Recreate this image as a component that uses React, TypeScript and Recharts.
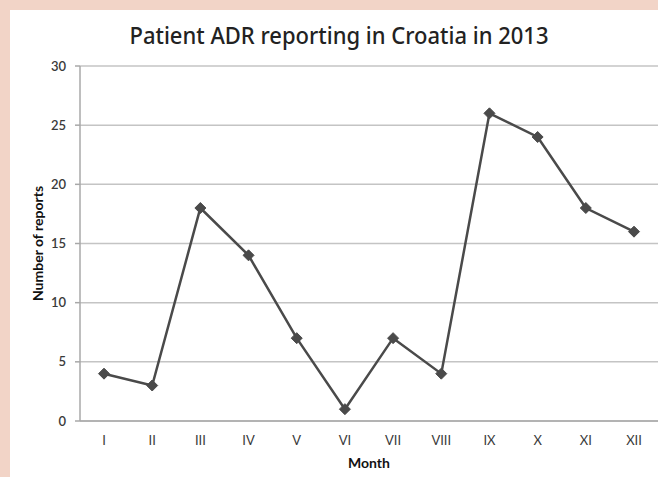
import React from 'react';
import { LineChart, Line, XAxis, YAxis, CartesianGrid } from 'recharts';

const months = ['I', 'II', 'III', 'IV', 'V', 'VI', 'VII', 'VIII', 'IX', 'X', 'XI', 'XII'];
const reports = [4, 3, 18, 14, 7, 1, 7, 4, 26, 24, 18, 16];
const yTicks = [0, 5, 10, 15, 20, 25, 30];
const title = 'Patient ADR reporting in Croatia in 2013';

const data = months.map((m, i) => ({ month: m, reports: reports[i] }));

const Diamond = (props: any) => {
  const { cx, cy } = props;
  if (cx == null || cy == null) return null;
  const r = 5.5;
  return (
    <polygon
      points={`${cx},${cy - r} ${cx + r},${cy} ${cx},${cy + r} ${cx - r},${cy}`}
      fill="#4a4a4a"
      stroke="#4a4a4a"
      strokeWidth={1}
    />
  );
};

const font = 'Lato, "Open Sans", sans-serif';

export default function App() {
  return (
    <div style={{ position: 'absolute', left: 0, top: 0, width: 658, height: 477, background: '#f2d4c7', overflow: 'hidden' }}>
      <div style={{ position: 'absolute', left: 10, top: 10, width: 648, height: 467, background: '#ffffff' }}>
        <svg width={648} height={60} style={{ position: 'absolute', left: 0, top: 0 }}>
          <text
            x={329}
            y={34}
            textAnchor="middle"
            textLength={419}
            lengthAdjust="spacingAndGlyphs"
            fontFamily={'"Noto Sans", sans-serif'}
            fontSize={23}
            fontWeight={500}
            fill="#222222"
          >
            {title}
          </text>
        </svg>
        <div style={{ position: 'absolute', left: 0, top: 0 }}>
          <LineChart width={648} height={467} data={data} margin={{ top: 56, right: 0, bottom: 0, left: 0 }}>
            <CartesianGrid vertical={false} stroke="#c4c4c4" strokeWidth={1.5} />
            <XAxis
              dataKey="month"
              ticks={months}
              interval={0}
              height={56}
              padding={{ left: 24, right: 24 }}
              axisLine={{ stroke: '#a8a8a8', strokeWidth: 1.5 }}
              tickLine={false}
              tickSize={0}
              tickMargin={15}
              tick={{ fill: '#3a3a3a', fontSize: 13, fontFamily: font }}
              label={{ value: 'Month', position: 'insideBottom', offset: 9, fill: '#111', fontSize: 14, fontWeight: 700, fontFamily: font }}
            />
            <YAxis
              width={70}
              domain={[0, 30]}
              ticks={yTicks}
              interval={0}
              axisLine={{ stroke: '#a8a8a8', strokeWidth: 1.5 }}
              tickLine={{ stroke: '#a8a8a8', strokeWidth: 1.5 }}
              tickSize={5}
              tickMargin={9}
              tick={{ fill: '#3a3a3a', fontSize: 13, fontFamily: font, fontWeight: 600 }}
              label={{ value: 'Number of reports', angle: -90, position: 'insideLeft', offset: 28, fill: '#111', fontSize: 14, fontWeight: 700, fontFamily: font, style: { textAnchor: 'middle' } }}
            />
            <Line
              type="linear"
              dataKey="reports"
              stroke="#4a4a4a"
              strokeWidth={2.5}
              dot={<Diamond />}
              activeDot={false}
              isAnimationActive={false}
            />
          </LineChart>
        </div>
      </div>
    </div>
  );
}
